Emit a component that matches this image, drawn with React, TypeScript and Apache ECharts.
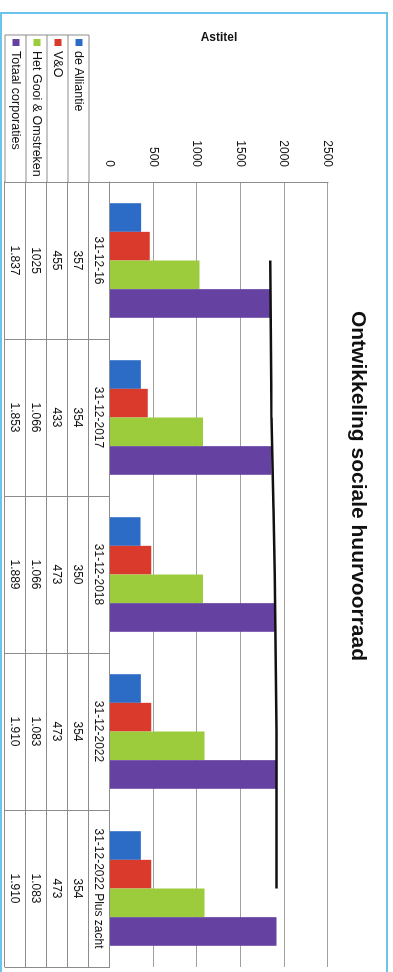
import React, { useEffect, useRef } from "react";
import * as echarts from "echarts";

const categories = ["31-12-16", "31-12-2017", "31-12-2018", "31-12-2022", "31-12-2022 Plus zacht"];
const seriesNames = ["de Alliantie", "V&O", "Het Gooi & Omstreken", "Totaal corporaties"];
const deAlliantie = [357, 354, 350, 354, 354];
const vEnO = [455, 433, 473, 473, 473];
const hetGooi = [1025, 1066, 1066, 1083, 1083];
const totaal = [1837, 1853, 1889, 1910, 1910];
const deAlliantieLabels = ["357", "354", "350", "354", "354"];
const vEnOLabels = ["455", "433", "473", "473", "473"];
const hetGooiLabels = ["1025", "1.066", "1.066", "1.083", "1.083"];
const totaalLabels = ["1.837", "1.853", "1.889", "1.910", "1.910"];
const valueMin = 0;
const valueMax = 2500;
const valueStep = 500;
const colors = ["#2C6CC6", "#D93A2C", "#9CCB3C", "#6541A2"];

const W = 972;
const H = 393;
const FONT = "'Liberation Sans', Arial, sans-serif";

export default function App() {
  const ref = useRef<HTMLDivElement>(null);
  useEffect(() => {
    if (!ref.current) return;
    const chart = echarts.init(ref.current, undefined, { renderer: "svg" });
    const gridLeft = 182;
    const plotBottom = 283;
    const rowH = 21;
    const lineColor = "#8C8C8C";
    const rowLabels = [null, deAlliantieLabels, vEnOLabels, hetGooiLabels, totaalLabels];
    const xAxes: any[] = [];
    for (let k = 0; k < 5; k++) {
      const labels = rowLabels[k];
      xAxes.push({
        type: "category",
        data: categories,
        position: "bottom",
        offset: k * rowH,
        axisLine: { show: true, lineStyle: { color: lineColor, width: 1 } },
        axisTick: { show: true, length: rowH, interval: 0, lineStyle: { color: lineColor } },
        axisLabel: {
          interval: 0,
          margin: 5,
          fontSize: 12,
          fontFamily: FONT,
          color: "#111",
          formatter: labels ? (_v: string, i: number) => labels[i] : undefined,
        },
        splitLine: { show: false },
      });
    }
    xAxes.push({
      type: "category",
      data: categories,
      position: "bottom",
      offset: 5 * rowH,
      axisLine: { show: true, lineStyle: { color: lineColor } },
      axisTick: { show: false },
      axisLabel: { show: false },
    });

    const legendLines: any[] = [];
    for (let k = 1; k <= 5; k++) {
      legendLines.push({
        type: "line",
        shape: { x1: 35, y1: plotBottom + k * rowH, x2: gridLeft, y2: plotBottom + k * rowH },
        style: { stroke: lineColor, lineWidth: 1 },
      });
    }
    legendLines.push({
      type: "line",
      shape: { x1: 35, y1: plotBottom + rowH, x2: 35, y2: plotBottom + 5 * rowH },
      style: { stroke: lineColor, lineWidth: 1 },
    });

    const barData = [deAlliantie, vEnO, hetGooi, totaal];
    const series: any[] = barData.map((d, i) => ({
      name: seriesNames[i],
      type: "bar",
      data: d,
      barGap: "0%",
      barCategoryGap: "27%",
      itemStyle: { color: colors[i] },
    }));
    series.push({
      name: "Totaal lijn",
      type: "line",
      data: totaal,
      symbol: "none",
      lineStyle: { color: "#111", width: 2.5 },
      z: 5,
    });

    chart.setOption({
      animation: false,
      backgroundColor: "#fff",
      title: {
        text: "Ontwikkeling sociale huurvoorraad",
        left: "center",
        top: 18,
        textStyle: { fontSize: 21, fontWeight: "bold", fontFamily: FONT, color: "#111" },
      },
      legend: {
        orient: "vertical",
        left: 39,
        top: 307,
        padding: 0,
        itemWidth: 7,
        itemHeight: 7,
        itemGap: 7,
        icon: "rect",
        data: seriesNames,
        textStyle: { fontSize: 12.5, lineHeight: 14, fontFamily: FONT, color: "#111" },
      },
      grid: { left: gridLeft, right: 5, top: 65, bottom: H - plotBottom, containLabel: false },
      xAxis: xAxes,
      yAxis: {
        type: "value",
        min: valueMin,
        max: valueMax,
        interval: valueStep,
        name: "Astitel",
        nameLocation: "middle",
        nameRotate: 90,
        nameGap: 139,
        nameTextStyle: { fontSize: 12, fontWeight: "bold", fontFamily: FONT, color: "#111" },
        axisLine: { show: true, lineStyle: { color: lineColor } },
        axisTick: { show: false },
        axisLabel: {
          margin: 15,
          fontSize: 12,
          fontFamily: FONT,
          color: "#111",
          formatter: (v: number) => String(v),
        },
        splitLine: { lineStyle: { color: "#A0A0A0", width: 1 } },
      },
      graphic: [
        {
          type: "rect",
          shape: { x: 13, y: 6, width: 1000, height: 386 },
          style: { fill: "none", stroke: "#6CC4EA", lineWidth: 2 },
          silent: true,
        },
        ...legendLines,
      ],
      series,
    });
    return () => chart.dispose();
  }, []);

  return (
    <div
      style={{
        position: "fixed",
        left: 0,
        top: 0,
        width: W,
        height: H,
        transformOrigin: "0 0",
        transform: `translateX(${H}px) rotate(90deg)`,
      }}
    >
      <div ref={ref} style={{ width: W, height: H }} />
    </div>
  );
}
